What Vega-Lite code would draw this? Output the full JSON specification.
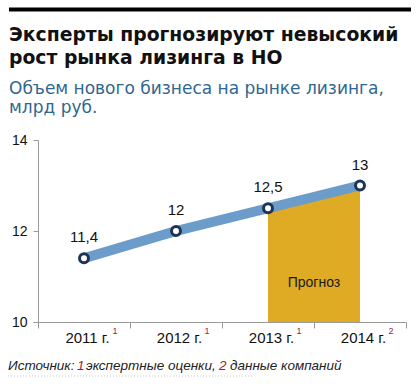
{
  "$schema": "https://vega.github.io/schema/vega-lite/v6.json",
  "width": 368,
  "height": 182,
  "autosize": {"type": "none"},
  "padding": {"left": 38, "top": 140, "right": 14, "bottom": 69},
  "background": "white",
  "config": {"view": {"stroke": null}, "font": "Liberation Sans"},
  "title": {
    "text": ["Эксперты прогнозируют невысокий", "рост рынка лизинга в НО"],
    "subtitle": ["Объем нового бизнеса на рынке лизинга,", "млрд руб."],
    "anchor": "start",
    "frame": "group",
    "dx": -29,
    "dy": 108,
    "offset": 0,
    "font": "DejaVu Sans",
    "fontSize": 18.8,
    "fontWeight": "bold",
    "color": "#111111",
    "lineHeight": 23,
    "subtitleFont": "DejaVu Sans",
    "subtitleFontSize": 17,
    "subtitleColor": "#2f6791",
    "subtitleLineHeight": 19,
    "subtitlePadding": 13
  },
  "data": {
    "values": [
      {"year": "2011", "value": 11.4, "label": "11,4", "note": "1"},
      {"year": "2012", "value": 12, "label": "12", "note": "1"},
      {"year": "2013", "value": 12.5, "label": "12,5", "note": "1"},
      {"year": "2014", "value": 13, "label": "13", "note": "2"}
    ]
  },
  "layer": [
    {
      "transform": [{"filter": "datum.year == '2013' || datum.year == '2014'"}],
      "mark": {"type": "area", "color": "#dfaa24", "opacity": 1},
      "encoding": {
        "x": {"field": "year", "type": "ordinal"},
        "y": {"field": "value", "type": "quantitative"},
        "y2": {"datum": 10}
      }
    },
    {
      "mark": {"type": "line", "color": "#6c9dca", "strokeWidth": 10, "strokeCap": "butt"},
      "encoding": {
        "x": {
          "field": "year",
          "type": "ordinal",
          "scale": {"type": "band", "paddingInner": 0, "paddingOuter": 0},
          "axis": {
            "title": null,
            "labelExpr": "datum.value ? datum.value + ' г.' : ''",
            "labelFont": "Liberation Sans",
            "labelFontSize": 15,
            "labelColor": "#111111",
            "labelPadding": 2,
            "labelOffset": 3,
            "labelAngle": 0,
            "labelAlign": "center",
            "labelBaseline": "top",
            "tickBand": "extent",
            "tickSize": 6,
            "tickColor": "#9a9a9a",
            "domainColor": "#9a9a9a",
            "grid": false
          }
        },
        "y": {
          "field": "value",
          "type": "quantitative",
          "scale": {"domain": [10, 14], "zero": false, "nice": false},
          "axis": {
            "title": null,
            "values": [10, 12, 14],
            "labelFont": "Liberation Sans",
            "labelFontSize": 14,
            "labelColor": "#111111",
            "labelPadding": 6,
            "tickSize": 5,
            "tickColor": "#9a9a9a",
            "domainColor": "#9a9a9a",
            "grid": false
          }
        }
      }
    },
    {
      "mark": {"type": "point", "shape": "circle", "filled": true, "fill": "white", "stroke": "#1c3553", "strokeWidth": 3, "size": 80, "opacity": 1},
      "encoding": {
        "x": {"field": "year", "type": "ordinal"},
        "y": {"field": "value", "type": "quantitative"}
      }
    },
    {
      "mark": {"type": "text", "font": "Liberation Sans", "fontSize": 15, "color": "#111111", "dy": -21, "baseline": "middle"},
      "encoding": {
        "x": {"field": "year", "type": "ordinal"},
        "y": {"field": "value", "type": "quantitative"},
        "text": {"field": "label"}
      }
    },
    {
      "mark": {"type": "text", "font": "Liberation Sans", "fontSize": 9, "color": "#a01c32", "dx": 31, "dy": 9, "baseline": "middle", "align": "center"},
      "encoding": {
        "x": {"field": "year", "type": "ordinal"},
        "y": {"datum": 10},
        "text": {"field": "note"}
      }
    },
    {
      "data": {"values": [{}]},
      "mark": {"type": "text", "text": "Прогноз", "font": "Liberation Sans", "fontSize": 14, "color": "#1a1a1a", "baseline": "middle", "align": "center"},
      "encoding": {"x": {"datum": "2013", "bandPosition": 1}, "y": {"datum": 10.85}}
    },
    {
      "data": {"values": [{}]},
      "mark": {"type": "rule", "color": "#000000", "strokeWidth": 4, "xOffset": -29, "x2Offset": 5, "yOffset": -130.5},
      "encoding": {"x": {"datum": "2011", "bandPosition": 0}, "x2": {"datum": "2014", "bandPosition": 1}, "y": {"datum": 14}}
    },
    {
      "data": {"values": [{}]},
      "mark": {"type": "rule", "color": "#c8c8c8", "strokeWidth": 1, "strokeDash": [1, 2], "xOffset": -30, "x2Offset": 31, "yOffset": 54},
      "encoding": {"x": {"datum": "2011", "bandPosition": 0}, "x2": {"datum": "2013", "bandPosition": 0}, "y": {"datum": 10}}
    },
    {
      "data": {"values": [{}]},
      "mark": {"type": "text", "text": "Источник:", "font": "Liberation Sans", "fontSize": 13.5, "fontStyle": "italic", "color": "#222222", "align": "left", "baseline": "middle", "dx": -30, "dy": 44},
      "encoding": {"x": {"datum": "2011", "bandPosition": 0}, "y": {"datum": 10}}
    },
    {
      "data": {"values": [{}]},
      "mark": {"type": "text", "text": "1", "font": "Liberation Sans", "fontSize": 13.5, "fontStyle": "italic", "color": "#a01c32", "align": "left", "baseline": "middle", "dx": 39, "dy": 44},
      "encoding": {"x": {"datum": "2011", "bandPosition": 0}, "y": {"datum": 10}}
    },
    {
      "data": {"values": [{}]},
      "mark": {"type": "text", "text": "экспертные оценки,", "font": "Liberation Sans", "fontSize": 13.5, "fontStyle": "italic", "color": "#222222", "align": "left", "baseline": "middle", "dx": 48, "dy": 44},
      "encoding": {"x": {"datum": "2011", "bandPosition": 0}, "y": {"datum": 10}}
    },
    {
      "data": {"values": [{}]},
      "mark": {"type": "text", "text": "2", "font": "Liberation Sans", "fontSize": 13.5, "fontStyle": "italic", "color": "#a01c32", "align": "left", "baseline": "middle", "dx": 181, "dy": 44},
      "encoding": {"x": {"datum": "2011", "bandPosition": 0}, "y": {"datum": 10}}
    },
    {
      "data": {"values": [{}]},
      "mark": {"type": "text", "text": "данные компаний", "font": "Liberation Sans", "fontSize": 13.5, "fontStyle": "italic", "color": "#222222", "align": "left", "baseline": "middle", "dx": 192, "dy": 44},
      "encoding": {"x": {"datum": "2011", "bandPosition": 0}, "y": {"datum": 10}}
    }
  ]
}
